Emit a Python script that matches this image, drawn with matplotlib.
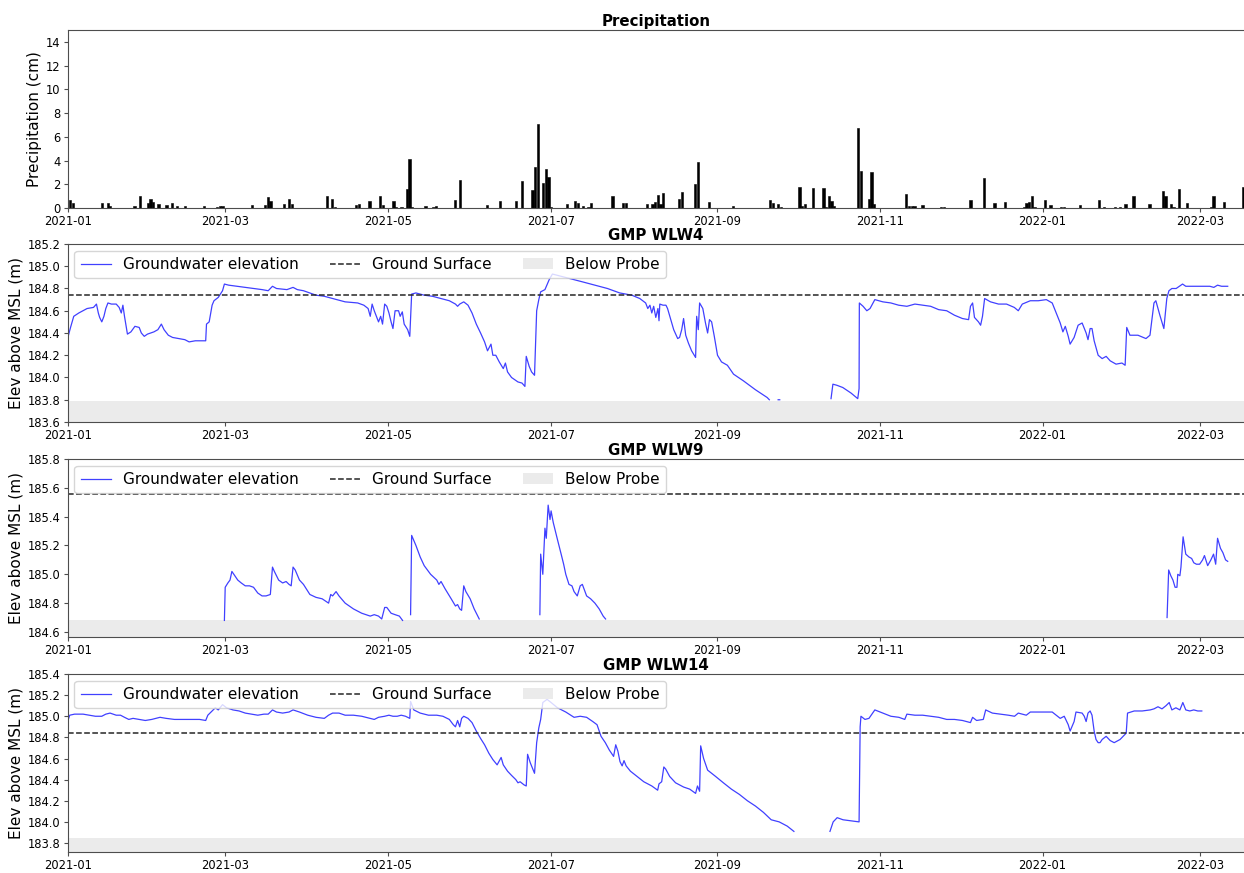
import numpy as np
import pandas as pd
import matplotlib
matplotlib.use("Agg")
import matplotlib.pyplot as plt
import matplotlib.dates as mdates
from matplotlib.ticker import MultipleLocator, FormatStrFormatter

START = pd.Timestamp("2021-01-01")

# ---------------- Precipitation (day offset from 2021-01-01, cm) ----------------
precip_day = [1, 2, 13, 15, 16, 25, 27, 30, 31, 32, 34, 37, 39, 41, 44, 51, 56, 57, 58, 69,
              74, 75, 76, 81, 83, 84, 97, 99, 100, 108, 109, 113, 117, 118, 122, 123, 125, 127,
              128, 129, 134, 137, 138, 145, 147, 157, 162, 168, 170, 174, 175, 176, 178, 179,
              180, 181, 187, 190, 191, 193, 195, 196, 204, 208, 209, 217, 219, 220,
              221, 222, 223, 229, 230, 235, 236, 240, 249, 263, 264, 266, 267, 274, 275, 276,
              279, 283, 284, 285, 286, 287, 296, 297, 300, 301, 302, 314, 315, 316, 317, 320,
              327, 328, 338, 343, 347, 351, 358, 359, 360, 361, 362, 366, 368, 372, 373, 379,
              386, 388, 392, 394, 396, 399, 405, 410, 411, 413, 414, 416, 419, 428, 429, 433, 440]
precip_cm = [0.7, 0.4, 0.4, 0.4, 0.15, 0.15, 1.0, 0.4, 0.8, 0.5, 0.35, 0.25, 0.4, 0.15, 0.15,
             0.15, 0.05, 0.2, 0.15, 0.25, 0.25, 0.9, 0.55, 0.3, 0.8, 0.3, 1.05, 0.8, 0.05, 0.25,
             0.3, 0.55, 1.05, 0.25, 0.6, 0.05, 0.05, 1.6, 4.1, 0.05, 0.15, 0.05, 0.15, 0.7, 2.4,
             0.25, 0.6, 0.6, 2.3, 1.5, 3.45, 7.1, 2.1, 3.3, 2.6, 0.05, 0.35, 0.6, 0.45, 0.15,
             0.1, 0.4, 1.05, 0.4, 0.45, 0.35, 0.3, 0.5,
             1.1, 0.3, 1.25, 0.75, 1.35, 2.05, 3.9, 0.5, 0.15, 0.7, 0.4, 0.35, 0.05, 1.75, 0.15,
             0.35, 1.65, 1.7, 0.05, 1.0, 0.6, 0.2, 6.7, 3.15, 0.8, 3.0, 0.3, 1.2, 0.2, 0.15,
             0.15, 0.25, 0.1, 0.05, 0.7, 2.5, 0.4, 0.5, 0.05, 0.45, 0.5, 1.0, 0.05, 0.65, 0.25,
             0.05, 0.05, 0.25, 0.65, 0.05, 0.1, 0.05, 0.35, 1.0, 0.3, 1.4, 1.05, 0.3, 0.05, 1.6,
             0.45, 0.1, 1.0, 0.5, 1.8]

# ---------------- GMP WLW4 (day offset, elevation m; nan = gap) ----------------
wlw4_day = [0, 1.1, 2.3, 4.2, 7.3, 9.7, 10.8, 11.5, 12.0, 12.8, 13.6, 14.3, 15.1, 16.4, 18.2,
            19.3, 20.1, 20.7, 21.3, 22.4, 23.7, 25.2, 26.8, 27.6, 28.7, 29.9, 32.3, 33.8, 35.1,
            36.1, 37.7, 39.3, 41.6, 43.9, 45.5, 47.8, 50.9, 51.7, 52.0, 53.0, 54.1, 54.8, 56.4,
            58.0, 58.7, 60.3, 63.4, 66.5, 69.6, 72.8, 75.1, 76.7, 78.2, 82.1, 84.4, 86.0, 88.3,
            90.7, 93.0, 96.1, 99.2, 103.9, 108.6, 110.9, 112.5, 113.3, 114.0, 114.8, 116.4,
            117.2, 117.9, 118.7, 119.5, 120.3, 121.1, 121.8, 122.6, 123.9, 124.5, 125.3, 126.0,
            127.3, 128.1, 128.8, 130.4, 133.5, 136.6, 139.8, 142.9, 145.2, 146.0, 146.8, 148.3,
            149.9, 151.4, 153.0, 154.6, 156.1, 157.2, 158.5, 159.2, 160.3, 161.6, 163.1, 163.9,
            164.7, 166.2, 168.6, 170.1, 171.2, 171.7, 172.8, 173.7, 174.8, 175.6, 176.4, 177.1,
            178.7, 180.3, 181.5, 192.7, 202.1, 206.7, 211.2, 214.2, 216.4, 217.2, 218.0, 218.7,
            219.4, 220.2, 221.0, 221.4, 221.7, 222.9, 224.0, 224.6, 225.7, 226.9, 228.4, 229.1,
            229.9, 230.6, 231.4, 232.4, 233.6, 235.1, 235.5, 236.1, 236.6, 237.8, 238.8, 239.6,
            240.3, 241.1, 242.1, 243.3, 244.8, 247.0, 249.3, 253.0, 257.5, 261.9, 262.7, 263.0,
            266.0, 266.6, 267.0,
            285.8, 286.5, 288.0, 290.2, 293.3, 295.8, 296.3, 296.4, 297.8, 299.2, 300.4, 302.2,
            305.2, 308.2, 311.1, 314.2, 317.2, 320.1, 323.1, 326.1, 329.1, 332.0, 335.0, 337.3,
            338.0, 338.8, 339.5, 341.0, 341.8, 342.5, 343.3, 345.5, 348.5, 351.5, 354.4, 355.9,
            357.4, 360.4, 363.4, 366.4, 368.6, 370.1, 371.6, 372.6, 373.5, 374.6, 375.3, 376.8,
            378.3, 379.8, 381.3, 382.0, 382.8, 383.5, 384.3, 385.8, 387.3, 388.8, 390.3, 392.5,
            394.7, 395.9, 396.5, 397.7, 400.7, 403.7, 405.2, 406.7, 407.4, 408.9, 410.4, 411.5,
            412.3, 413.4, 415.0, 417.4, 418.6, 421.6, 424.6, 427.6, 429.1, 430.5, 432.0, 434.3]
wlw4_elev = [184.35, 184.45, 184.55, 184.58, 184.62, 184.63, 184.66, 184.58, 184.54, 184.50,
             184.55, 184.62, 184.67, 184.66, 184.66, 184.63, 184.58, 184.65, 184.55, 184.39,
             184.41, 184.46, 184.45, 184.40, 184.37, 184.39, 184.41, 184.43, 184.48, 184.43,
             184.38, 184.36, 184.35, 184.34, 184.32, 184.33, 184.33, 184.33, 184.48, 184.50,
             184.65, 184.69, 184.72, 184.78, 184.84, 184.83, 184.82, 184.81, 184.80, 184.79,
             184.78, 184.82, 184.80, 184.79, 184.81, 184.79, 184.78, 184.76, 184.74, 184.73,
             184.71, 184.68, 184.67, 184.65, 184.62, 184.55, 184.66, 184.60, 184.50, 184.55,
             184.48, 184.66, 184.64, 184.58, 184.50, 184.44, 184.60, 184.60, 184.55, 184.59,
             184.48, 184.43, 184.37, 184.75, 184.76, 184.74, 184.73, 184.71, 184.69, 184.66,
             184.64, 184.66, 184.68, 184.65, 184.58, 184.48, 184.40, 184.32, 184.24, 184.30,
             184.20, 184.20, 184.14, 184.08, 184.13, 184.05, 184.00, 183.96, 183.95, 183.92,
             184.19, 184.10, 184.05, 184.02, 184.60, 184.70, 184.77, 184.79, 184.88, 184.93,
             184.86, 184.80, 184.76, 184.74, 184.71, 184.67, 184.62, 184.65, 184.58, 184.64,
             184.54, 184.62, 184.51, 184.66, 184.65, 184.65, 184.62, 184.53, 184.43, 184.35,
             184.36, 184.43, 184.53, 184.38, 184.31, 184.24, 184.18, 184.55, 184.43, 184.67,
             184.62, 184.49, 184.40, 184.52, 184.50, 184.37, 184.20, 184.14, 184.11, 184.03,
             183.97, 183.89, 183.82, 183.80, np.nan,
             183.80, 183.80, np.nan,
             183.81, 183.94, 183.93, 183.91, 183.86, 183.81, 183.90, 184.67, 184.64, 184.60,
             184.62, 184.70, 184.68, 184.67, 184.65, 184.64, 184.66, 184.65, 184.64, 184.61,
             184.60, 184.56, 184.53, 184.52, 184.64, 184.67, 184.54, 184.50, 184.47, 184.55,
             184.71, 184.68, 184.66, 184.66, 184.63, 184.60, 184.66, 184.69, 184.69, 184.70,
             184.67, 184.58, 184.49, 184.41, 184.46, 184.37, 184.30, 184.36, 184.47, 184.49,
             184.40, 184.34, 184.44, 184.44, 184.33, 184.20, 184.17, 184.19, 184.15, 184.12,
             184.13, 184.11, 184.45, 184.38, 184.38, 184.35, 184.38, 184.67, 184.69, 184.56,
             184.44, 184.71, 184.78, 184.80, 184.80, 184.84, 184.82, 184.82, 184.82, 184.82,
             184.81, 184.83, 184.82, 184.82]

# ---------------- GMP WLW9 ----------------
wlw9_day = [58.7, 59.0, 60.0, 60.8, 61.5, 62.6, 63.7, 65.0, 66.5, 68.1, 69.6, 71.2, 72.8, 74.3,
            75.9, 76.7, 77.4, 79.0, 80.5, 81.8, 82.9, 83.7, 84.4, 85.2, 86.8, 88.3, 90.7, 93.0,
            95.3, 97.7, 98.5, 99.2, 100.5, 101.6, 103.9, 107.0, 110.1, 113.3, 114.8, 116.4,
            117.6, 118.7, 119.5, 121.1, 122.6, 124.2, 125.4, 126.0,
            128.4, 128.8, 130.4, 132.0, 133.5, 135.9, 138.2, 139.0, 139.8, 141.3, 143.6, 145.2,
            146.0, 146.8, 147.5, 148.3, 149.1, 150.7, 152.2, 154.1, 155.0,
            176.8, 177.1, 177.9, 178.7, 179.2, 179.9, 180.6, 181.0, 181.8, 183.4, 184.9, 185.7,
            186.5, 187.7, 188.8, 189.6, 190.8, 191.9, 192.7, 194.3, 195.8, 197.4, 199.0, 200.5,
            201.4, 202.0,
            411.6, 412.2, 413.0, 413.8, 414.6, 415.3, 415.6, 416.4, 416.8, 417.6, 418.6, 419.8,
            420.8, 421.6, 422.6, 423.8, 424.9, 425.6, 426.8, 428.0, 429.0, 429.8, 430.5, 431.6,
            432.5, 433.5, 434.3]
wlw9_elev = [184.68, 184.91, 184.94, 184.96, 185.02, 184.99, 184.96, 184.94, 184.92, 184.92,
             184.91, 184.87, 184.85, 184.85, 184.86, 185.05, 185.02, 184.96, 184.94, 184.95,
             184.93, 184.92, 185.05, 185.03, 184.96, 184.93, 184.86, 184.84, 184.83, 184.80,
             184.86, 184.85, 184.88, 184.85, 184.80, 184.76, 184.73, 184.71, 184.72, 184.71,
             184.69, 184.77, 184.77, 184.73, 184.72, 184.71, 184.68, np.nan,
             184.72, 185.27, 185.20, 185.12, 185.06, 185.00, 184.96, 184.93, 184.95, 184.90,
             184.83, 184.78, 184.79, 184.76, 184.75, 184.92, 184.88, 184.83, 184.76, 184.69,
             np.nan,
             184.72, 185.14, 185.00, 185.32, 185.25, 185.48, 185.38, 185.44, 185.36, 185.24,
             185.13, 185.07, 185.00, 184.93, 184.92, 184.88, 184.85, 184.92, 184.93, 184.85,
             184.83, 184.80, 184.76, 184.71, 184.69, np.nan,
             184.70, 185.03, 184.99, 184.96, 184.91, 184.91, 185.00, 184.99, 185.05, 185.26,
             185.14, 185.12, 185.11, 185.08, 185.07, 185.07, 185.10, 185.13, 185.06, 185.10,
             185.14, 185.07, 185.25, 185.18, 185.15, 185.10, 185.09]

# ---------------- GMP WLW14 ----------------
wlw14_day = [0, 0.8, 2.6, 5.8, 8.1, 10.4, 12.8, 14.3, 15.9, 18.2, 19.8, 21.3, 22.9, 24.5, 26.8,
             29.1, 31.5, 34.6, 36.9, 40.0, 43.2, 46.3, 49.4, 51.7, 52.5, 54.1, 55.3, 56.4, 58.0,
             59.5, 61.9, 64.2, 66.5, 68.9, 71.2, 73.5, 75.1, 76.7, 78.2, 80.5, 82.9, 84.4, 86.8,
             89.9, 93.0, 96.1, 97.7, 99.2, 101.6, 103.9, 107.0, 110.1, 113.3, 114.8, 116.4,
             118.7, 120.3, 121.8, 123.4, 124.9, 126.5, 128.1, 128.4, 129.6, 132.0, 135.1, 138.2,
             140.5, 142.9, 144.4, 145.2, 146.0, 146.8, 147.5, 148.3, 149.9, 151.4, 153.0, 154.6,
             156.1, 157.7, 159.2, 160.8, 162.3, 163.1, 164.7, 166.2, 167.8, 168.6, 169.4, 170.9,
             171.7, 172.2, 173.2, 174.8, 175.6, 176.4, 177.1, 177.9, 179.5, 181.0, 183.4, 186.5,
             189.6, 191.9, 194.3, 196.6, 198.2, 199.7, 201.3, 202.8, 204.4, 205.2, 206.0, 206.8,
             207.6, 208.3, 209.1, 210.7, 212.7, 215.7, 218.7, 220.9, 221.4, 222.4, 223.2, 223.9,
             225.4, 227.6, 230.6, 232.9, 235.1, 235.8, 236.6, 237.0, 238.1, 239.6, 242.6, 245.5,
             248.5, 251.5, 254.5, 257.5, 260.5, 263.4, 266.4, 269.4, 271.9, 272.5,
             285.4, 286.6, 288.1, 290.3, 293.3, 296.3, 296.7, 297.0, 298.5, 300.0, 302.2, 305.2,
             308.2, 311.2, 313.4, 314.2, 317.2, 320.1, 323.1, 326.1, 329.1, 332.0, 335.0, 338.0,
             338.8, 340.3, 342.8, 343.7, 346.2, 349.2, 352.2, 354.5, 355.9, 358.9, 360.4, 363.4,
             366.4, 368.6, 370.1, 371.6, 373.1, 374.6, 375.3, 376.8, 377.5, 379.8, 380.6, 381.3,
             382.0, 382.8, 383.5, 384.3, 385.0, 385.8, 386.5, 387.3, 388.8, 390.3, 391.8, 394.0,
             395.5, 396.3, 396.8, 399.3, 402.3, 405.3, 406.7, 408.2, 409.7, 411.2, 412.4, 413.4,
             414.9, 416.4, 417.5, 418.6, 420.1, 421.6, 423.1, 424.6]
wlw14_elev = [184.95, 185.01, 185.02, 185.02, 185.01, 185.00, 185.00, 185.02, 185.03, 185.01,
              185.01, 184.99, 184.97, 184.98, 184.97, 184.96, 184.97, 184.99, 184.98, 184.97,
              184.97, 184.97, 184.97, 184.96, 185.01, 185.05, 185.08, 185.06, 185.11, 185.08,
              185.06, 185.05, 185.03, 185.02, 185.01, 185.02, 185.02, 185.06, 185.04, 185.03,
              185.04, 185.06, 185.04, 185.01, 184.99, 184.98, 185.01, 185.03, 185.03, 185.01,
              185.01, 185.00, 184.98, 184.97, 184.99, 185.00, 185.01, 185.00, 185.00, 185.01,
              185.00, 184.98, 185.14, 185.06, 185.03, 185.01, 185.01, 185.00, 184.97, 184.92,
              184.90, 184.96, 184.90, 184.98, 185.00, 184.98, 184.94, 184.86, 184.79, 184.73,
              184.65, 184.59, 184.54, 184.61, 184.54, 184.48, 184.44, 184.40, 184.37, 184.38,
              184.35, 184.34, 184.64, 184.56, 184.46, 184.75, 184.89, 184.97, 185.13, 185.16,
              185.13, 185.08, 185.04, 184.99, 185.00, 184.99, 184.95, 184.92, 184.81, 184.75,
              184.68, 184.62, 184.73, 184.67, 184.57, 184.53, 184.58, 184.53, 184.48, 184.44,
              184.38, 184.34, 184.30, 184.36, 184.38, 184.52, 184.50, 184.43, 184.37, 184.33,
              184.31, 184.27, 184.34, 184.29, 184.72, 184.60, 184.49, 184.43, 184.37, 184.31,
              184.26, 184.20, 184.15, 184.09, 184.02, 184.00, 183.96, 183.91, np.nan,
              183.91, 184.00, 184.04, 184.02, 184.01, 184.00, 184.90, 185.00, 184.97, 184.98,
              185.06, 185.03, 185.00, 184.99, 184.97, 185.02, 185.01, 185.01, 185.00, 184.99,
              184.97, 184.97, 184.96, 184.94, 184.99, 184.96, 184.97, 185.06, 185.03, 185.02,
              185.01, 185.00, 185.03, 185.01, 185.04, 185.04, 185.04, 185.04, 185.01, 184.98,
              185.00, 184.92, 184.86, 184.95, 185.04, 185.03, 185.00, 184.95, 185.03, 185.05,
              185.01, 184.86, 184.78, 184.75, 184.75, 184.78, 184.81, 184.77, 184.75, 184.78,
              184.82, 184.84, 185.03, 185.05, 185.05, 185.06, 185.07, 185.09, 185.07, 185.10,
              185.13, 185.06, 185.08, 185.06, 185.13, 185.06, 185.05, 185.06, 185.05, 185.05]

wells = ["GMP WLW4", "GMP WLW9", "GMP WLW14"]
ground_surface = [184.745, 185.555, 184.845]
probe_level = [183.785, 184.685, 183.85]
y_bottom = [183.6, 184.565, 183.715]
y_top = [185.2, 185.8, 185.4]
well_days = [wlw4_day, wlw9_day, wlw14_day]
well_elev = [wlw4_elev, wlw9_elev, wlw14_elev]

X_END_DAY = 440.4


def to_dates(days):
    return START + pd.to_timedelta(np.asarray(days, dtype=float), unit="D")


for d, e in zip(well_days, well_elev):
    assert len(d) == len(e), (len(d), len(e))
assert len(precip_day) == len(precip_cm)

W, H = 1244, 873
fig = plt.figure(figsize=(W / 100, H / 100), dpi=100)

left = 67.6 / W
width = 1.0 - left
tops = [30, 244, 459, 674]
ph = 178

def make_ax(top):
    return fig.add_axes([left, 1 - (top + ph) / H, width, ph / H])

spine_col = "0.3"
xmin = START
xmax = START + pd.to_timedelta(X_END_DAY, unit="D")

TICK_FS = 8.3
LABEL_FS = 11
TITLE_FS = 10.8
LEGEND_FS = 11

def style_x(ax):
    ax.set_xlim(xmin, xmax)
    ax.xaxis.set_major_locator(mdates.MonthLocator(bymonth=[1, 3, 5, 7, 9, 11]))
    ax.xaxis.set_major_formatter(mdates.DateFormatter("%Y-%m"))
    ax.spines["right"].set_visible(False)
    for s in ["left", "top", "bottom"]:
        ax.spines[s].set_color(spine_col)
    ax.tick_params(labelsize=TICK_FS, length=3, color=spine_col, pad=2)

# Precipitation
ax0 = make_ax(tops[0])
ax0.bar(to_dates(precip_day), precip_cm, width=0.85, color="black", edgecolor="black", linewidth=0.4)
ax0.set_ylim(0, 15)
ax0.yaxis.set_major_locator(MultipleLocator(2))
ax0.set_ylabel("Precipitation (cm)", fontsize=LABEL_FS, labelpad=3)
ax0.set_title("Precipitation", fontsize=TITLE_FS, fontweight="bold", pad=3)
style_x(ax0)

for i in range(3):
    ax = make_ax(tops[i + 1])
    ax.plot(to_dates(well_days[i]), well_elev[i], color="blue", alpha=0.75, lw=0.9,
            label="Groundwater elevation")
    ax.axhline(ground_surface[i], color="0.15", ls="--", lw=1.1, label="Ground Surface")
    ax.axhspan(y_bottom[i], probe_level[i], color="0.92", lw=0, label="Below Probe")
    ax.set_ylim(y_bottom[i], y_top[i])
    ax.yaxis.set_major_locator(MultipleLocator(0.2))
    ax.yaxis.set_major_formatter(FormatStrFormatter("%.1f"))
    ax.set_ylabel("Elev above MSL (m)", fontsize=LABEL_FS, labelpad=3)
    ax.set_title(wells[i], fontsize=TITLE_FS, fontweight="bold", pad=3)
    ax.legend(loc="upper left", ncol=3, fontsize=LEGEND_FS, columnspacing=2.0,
              handlelength=2.0, borderaxespad=0.45)
    style_x(ax)

fig.savefig("out.png", dpi=100)
